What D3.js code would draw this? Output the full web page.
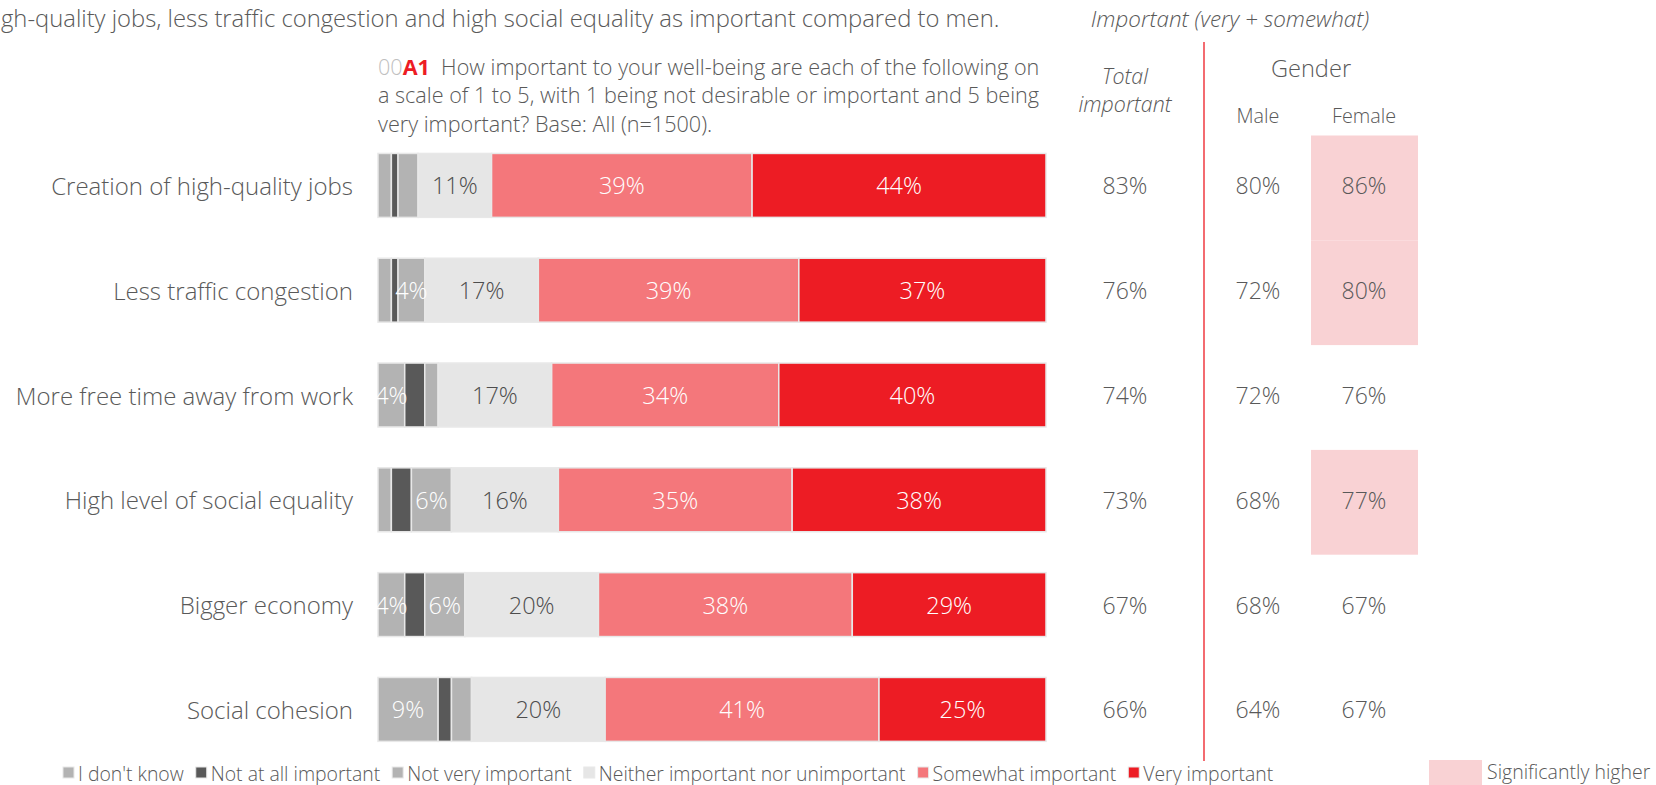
<!DOCTYPE html>
<html><head><meta charset="utf-8">
<script src="https://cdn.jsdelivr.net/npm/d3@7"></script>
<style>
html,body{margin:0;padding:0;background:#fff;overflow:hidden;}
svg{display:block;font-family:"Open Sans",Lato,sans-serif;}
</style></head><body>
<svg id="chart" width="1656" height="785"></svg>
<script>
// Survey items (rows, top to bottom)
const categories = [
  "Creation of high-quality jobs",
  "Less traffic congestion",
  "More free time away from work",
  "High level of social equality",
  "Bigger economy",
  "Social cohesion"
];
// Response scale, drawn left to right
const responses = [
  "I don't know",
  "Not at all important",
  "Not very important",
  "Neither important nor unimportant",
  "Somewhat important",
  "Very important"
];
// Share of respondents (%) per response
const dontKnow  = [2, 2, 4, 2, 4, 9];
const notAtAll  = [1, 1, 3, 3, 3, 2];
const notVery   = [3, 4, 2, 6, 6, 3];
const neither   = [11, 17, 17, 16, 20, 20];
const somewhat  = [39, 39, 34, 35, 38, 41];
const very      = [44, 37, 40, 38, 29, 25];
// Important (very + somewhat)
const totalImportant = [83, 76, 74, 73, 67, 66];
const male   = [80, 72, 72, 68, 68, 64];
const female = [86, 80, 76, 77, 67, 67];
const femaleSignificant = [true, true, false, true, false, false];

const title = "gh-quality jobs, less traffic congestion and high social equality as important compared to men.";
const questionLines = [
  ["00", "A1", "  How important to your well-being are each of the following on"],
  "a scale of 1 to 5, with 1 being not desirable or important and 5 being",
  "very important? Base: All (n=1500)."
];

const fills = ["#b3b3b3", "#595959", "#b3b3b3", "#e6e6e6", "#f4777b", "#ed1c24"];
const labelFills = ["#ffffff", "#ffffff", "#ffffff", "#4d4d4d", "#ffffff", "#ffffff"];
const textColor = "#595959";
const sigColor = "#f9d2d4";
const W = 300;

const seriesValues = [dontKnow, notAtAll, notVery, neither, somewhat, very];
const rows = categories.map((c, i) => {
  const r = { category: c };
  responses.forEach((k, j) => r[k] = seriesValues[j][i]);
  return r;
});
const stacked = d3.stack().keys(responses)(rows);

const svg = d3.select("#chart");

const x = d3.scaleLinear().domain([0, 100]).range([378, 1046]);
const y = d3.scaleBand().domain(categories).range([133, 133 + 6 * 104.8])
  .paddingInner(0.39).paddingOuter(0.195);
const rowBand = d3.scaleBand().domain(categories).range([135.5, 135.5 + 6 * 104.8]);

const colTotal = 1125, colMale = 1258, colFemale = 1364;

// Significance highlight cells
svg.append("g").selectAll("rect")
  .data(categories.filter((c, i) => femaleSignificant[i]))
  .join("rect")
  .attr("x", 1311).attr("width", 107)
  .attr("y", d => rowBand(d)).attr("height", rowBand.bandwidth())
  .attr("fill", sigColor);

// Title line
svg.append("text")
  .attr("x", 1).attr("y", 18)
  .attr("dominant-baseline", "central")
  .attr("font-size", 23.8).attr("font-weight", W).attr("fill", textColor)
  .text(title);

// Question text
const q = svg.append("g").attr("font-size", 21.6).attr("font-weight", W).attr("fill", textColor);
questionLines.forEach((line, i) => {
  const t = q.append("text").attr("x", 378).attr("y", 66 + i * 28.5)
    .attr("dominant-baseline", "central").attr("xml:space", "preserve");
  if (Array.isArray(line)) {
    t.append("tspan").attr("fill", "#c0c0c0").text(line[0]);
    t.append("tspan").attr("fill", "#ed1c24").attr("font-weight", 700).text(line[1]);
    t.append("tspan").text(line[2]);
  } else {
    t.text(line);
  }
});

// Right-hand headers
svg.append("text").attr("x", 1230).attr("y", 18)
  .attr("text-anchor", "middle").attr("dominant-baseline", "central")
  .attr("font-size", 22.4).attr("font-style", "italic").attr("font-weight", W)
  .attr("fill", textColor).text("Important (very + somewhat)");
["Total", "important"].forEach((s, i) => {
  svg.append("text").attr("x", colTotal).attr("y", 75 + i * 28)
    .attr("text-anchor", "middle").attr("dominant-baseline", "central")
    .attr("font-size", 21.4).attr("font-style", "italic").attr("font-weight", W)
    .attr("fill", textColor).text(s);
});
svg.append("text").attr("x", 1311).attr("y", 68)
  .attr("text-anchor", "middle").attr("dominant-baseline", "central")
  .attr("font-size", 23.6).attr("font-weight", W).attr("fill", textColor).text("Gender");
[["Male", colMale], ["Female", colFemale]].forEach(([s, cx]) => {
  svg.append("text").attr("x", cx).attr("y", 115)
    .attr("text-anchor", "middle").attr("dominant-baseline", "central")
    .attr("font-size", 19.8).attr("font-weight", W).attr("fill", textColor).text(s);
});

// Divider
svg.append("line").attr("x1", 1204).attr("x2", 1204).attr("y1", 42).attr("y2", 761)
  .attr("stroke", "#ed1c24").attr("stroke-width", 1.3);

// Row labels
svg.append("g").selectAll("text").data(categories).join("text")
  .attr("x", 353).attr("y", d => y(d) + y.bandwidth() / 2)
  .attr("text-anchor", "end").attr("dominant-baseline", "central")
  .attr("font-size", 24).attr("font-weight", W).attr("fill", textColor)
  .text(d => d);

// Stacked bars
const layers = svg.append("g").selectAll("g").data(stacked).join("g")
  .attr("fill", (d, i) => fills[i]);
layers.selectAll("rect").data(d => d).join("rect")
  .attr("x", d => x(d[0])).attr("width", d => x(d[1]) - x(d[0]))
  .attr("y", d => y(d.data.category)).attr("height", y.bandwidth())
  .attr("stroke", "#e8e8e8").attr("stroke-width", 1.5);

// Segment value labels (4% and above)
const labels = svg.append("g").selectAll("g").data(stacked).join("g")
  .attr("fill", (d, i) => labelFills[i]);
labels.selectAll("text").data(d => d.filter(s => s[1] - s[0] >= 4)).join("text")
  .attr("x", d => (x(d[0]) + x(d[1])) / 2)
  .attr("y", d => y(d.data.category) + y.bandwidth() / 2)
  .attr("text-anchor", "middle").attr("dominant-baseline", "central")
  .attr("font-size", 23.5).attr("font-weight", W)
  .text(d => (d[1] - d[0]) + "%");

// Summary columns
[[totalImportant, colTotal], [male, colMale], [female, colFemale]].forEach(([vals, cx]) => {
  svg.append("g").selectAll("text").data(vals).join("text")
    .attr("x", cx).attr("y", (d, i) => y(categories[i]) + y.bandwidth() / 2)
    .attr("text-anchor", "middle").attr("dominant-baseline", "central")
    .attr("font-size", 23).attr("font-weight", W).attr("fill", textColor)
    .text(d => d + "%");
});

// Legend
const legend = svg.append("g").attr("font-size", 19.4).attr("font-weight", W).attr("fill", textColor);
let lx = 63;
responses.forEach((r, i) => {
  legend.append("rect").attr("x", lx).attr("y", 767).attr("width", 11).attr("height", 11)
    .attr("fill", fills[i]).attr("stroke", "#e8e8e8").attr("stroke-width", 1);
  const t = legend.append("text").attr("x", lx + 15).attr("y", 773)
    .attr("dominant-baseline", "central").text(r);
  lx += 15 + t.node().getComputedTextLength() + 12;
});
svg.append("rect").attr("x", 1429).attr("y", 760).attr("width", 53).attr("height", 30).attr("fill", sigColor);
svg.append("text").attr("x", 1487).attr("y", 779)
  .attr("font-size", 19.5).attr("font-weight", W).attr("fill", textColor).text("Significantly higher");
</script>
</body></html>
